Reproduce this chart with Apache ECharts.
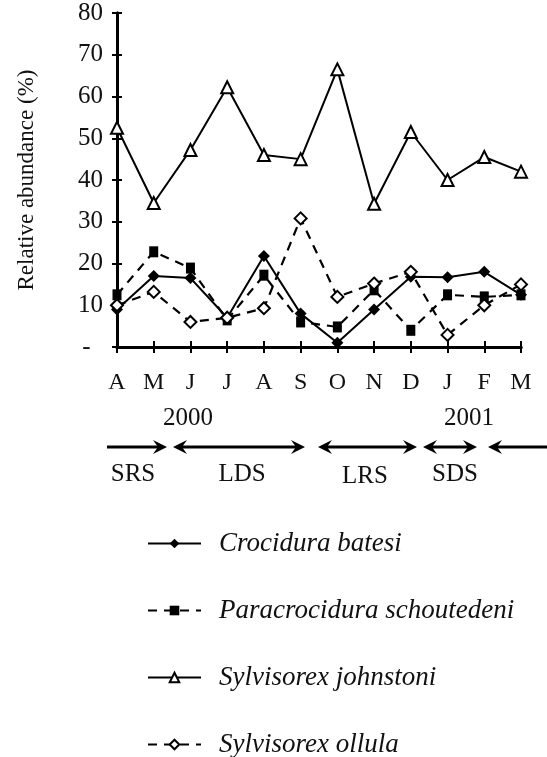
<!DOCTYPE html>
<html>
<head>
<meta charset="utf-8">
<script src="https://cdn.jsdelivr.net/npm/echarts@6/dist/echarts.min.js"></script>
<style>
html,body{margin:0;padding:0;background:#fff;}
#main{width:547px;height:757px;}
</style>
</head>
<body>
<div id="main"></div>
<script>
var months = ['A','M','J','J','A','S','O','N','D','J','F','M'];
var yTicks = [0,10,20,30,40,50,60,70,80];
var crociduraBatesi = [9, 17, 16.5, 7, 21.8, 8, 1, 9, 16.8, 16.7, 18, 12.5];
var paracrocidura = [12.5, 22.8, 18.9, 6.5, 17.2, 6, 4.8, 13.7, 4, 12.5, 12, 12.5];
var sylvJohnstoni = [52.5, 34.5, 47.2, 62.2, 46, 45, 66.5, 34.3, 51.5, 40, 45.5, 42];
var sylvOllula = [10, 13.2, 6, 7, 9.3, 30.8, 12, 15.2, 18, 2.9, 10, 15];
var seriesNames = ['Crocidura batesi','Paracrocidura schoutedeni','Sylvisorex johnstoni','Sylvisorex ollula'];
var years = ['2000','2001'];
var seasons = ['SRS','LDS','LRS','SDS'];

var FONT = "'Liberation Serif','Times New Roman',serif";
var chart = echarts.init(document.getElementById('main'));

function arrow(x1, x2, y, leftHead, rightHead) {
  var els = [{type:'line', shape:{x1:leftHead?x1+6:x1, y1:y, x2:rightHead?x2-6:x2, y2:y}, style:{stroke:'#000', lineWidth:3}}];
  if (rightHead) els.push({type:'polygon', shape:{points:[[x2,y],[x2-14,y-7],[x2-9,y],[x2-14,y+7]]}, style:{fill:'#000'}});
  if (leftHead) els.push({type:'polygon', shape:{points:[[x1,y],[x1+14,y-7],[x1+9,y],[x1+14,y+7]]}, style:{fill:'#000'}});
  return {type:'group', children: els};
}
var textStyle = {fill:'#111', font:'25px ' + FONT, textAlign:'center', textVerticalAlign:'middle'};
function txt(s, x, y) { return {type:'text', x:x, y:y, style:Object.assign({text:s}, textStyle)}; }

var axisCommon = {
  axisLine:{show:true, lineStyle:{color:'#000', width:3}},
  splitLine:{show:false}
};

var option = {
  backgroundColor:'#fff',
  animation:false,
  grid:{left:117, right:26, top:13, bottom:410, containLabel:false},
  xAxis:[
    Object.assign({type:'category', data:months, boundaryGap:false,
      axisTick:{show:true, length:6, lineStyle:{color:'#000', width:2}},
      axisLabel:{color:'#111', fontFamily:FONT, fontSize:24, margin:24, interval:0}}, axisCommon),
    Object.assign({type:'category', data:months, boundaryGap:false, position:'bottom',
      axisTick:{show:true, inside:true, length:6, lineStyle:{color:'#000', width:2}},
      axisLabel:{show:false}}, axisCommon)
  ],
  yAxis:[
    Object.assign({type:'value', min:0, max:80, interval:10,
      name:'Relative abundance (%)', nameLocation:'middle', nameRotate:90, nameGap:79,
      nameTextStyle:{color:'#111', fontFamily:FONT, fontSize:23},
      axisTick:{show:true, length:5, lineStyle:{color:'#000', width:2}},
      axisLabel:{color:'#111', fontFamily:FONT, fontSize:25, margin:14,
        formatter:function(v){ return v === 0 ? '-\u00a0\u00a0' : String(v); }}}, axisCommon),
    Object.assign({type:'value', min:0, max:80, interval:10, position:'left',
      axisTick:{show:true, inside:true, length:5, lineStyle:{color:'#000', width:2}},
      axisLabel:{show:false}}, axisCommon)
  ],
  legend:{
    orient:'vertical', left:147, top:530, height:260, padding:0, itemGap:40, itemWidth:53, itemHeight:12,
    data:seriesNames,
    textStyle:{color:'#111', fontFamily:FONT, fontSize:27, fontStyle:'italic', padding:[0,0,0,13]}
  },
  series:[
    {name:seriesNames[0], type:'line', data:crociduraBatesi, symbol:'diamond', symbolSize:12,
      lineStyle:{color:'#000', width:2}, itemStyle:{color:'#000'}},
    {name:seriesNames[1], type:'line', data:paracrocidura, symbol:'rect', symbolSize:[9,11],
      lineStyle:{color:'#000', width:2.2, type:[9,7]}, itemStyle:{color:'#000'}},
    {name:seriesNames[2], type:'line', data:sylvJohnstoni, symbol:'emptyTriangle', symbolSize:12,
      lineStyle:{color:'#000', width:2}, itemStyle:{color:'#000', borderWidth:2}},
    {name:seriesNames[3], type:'line', data:sylvOllula, symbol:'emptyDiamond', symbolSize:12,
      lineStyle:{color:'#000', width:2.2, type:[9,7]}, itemStyle:{color:'#000', borderWidth:1.5}}
  ],
  graphic:[
    txt(years[0], 188, 418),
    txt(years[1], 469, 418),
    arrow(107, 167, 447, false, true),
    arrow(173, 305, 447, true, true),
    arrow(318, 417, 447, true, true),
    arrow(423, 477, 447, true, true),
    arrow(488, 560, 447, true, false),
    txt(seasons[0], 133, 474),
    txt(seasons[1], 242, 474),
    txt(seasons[2], 365, 476),
    txt(seasons[3], 455, 474)
  ]
};
chart.setOption(option);
</script>
</body>
</html>
